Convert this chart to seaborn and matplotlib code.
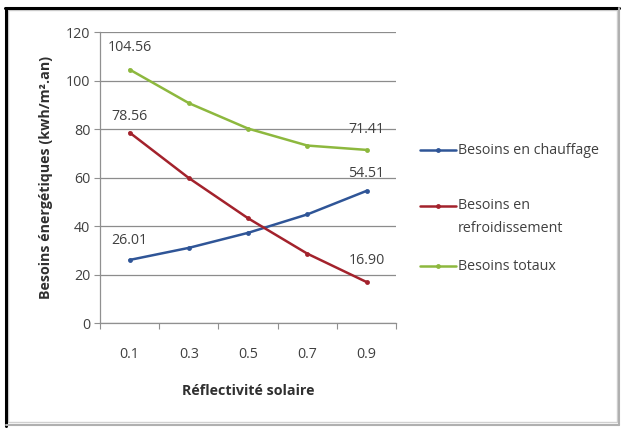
import matplotlib
matplotlib.use("Agg")
import matplotlib.pyplot as plt
from matplotlib.lines import Line2D
from matplotlib.patches import Rectangle
import seaborn as sns
import pandas as pd

# Data
reflectivity = ["0.1", "0.3", "0.5", "0.7", "0.9"]
chauffage = [26.01, 31.0, 37.2, 44.8, 54.51]
refroidissement = [78.56, 59.8, 43.2, 28.6, 16.90]
totaux = [104.56, 90.7, 80.2, 73.2, 71.41]
series_names = ["Besoins en chauffage", "Besoins en\nrefroidissement", "Besoins totaux"]
colors = ["#2F5597", "#A3222C", "#8DB83E"]
y_ticks = [0, 20, 40, 60, 80, 100, 120]

sns.set_style("white")
plt.rcParams["font.family"] = ["Open Sans", "DejaVu Sans"]

FS = 10.3
TXT = "#404040"

df = pd.DataFrame({
    "pos": list(range(len(reflectivity))) * 3,
    "value": chauffage + refroidissement + totaux,
    "serie": sum([[n] * len(reflectivity) for n in series_names], []),
})

fig = plt.figure(figsize=(6.21, 4.28), dpi=100)
ax = fig.add_axes([0.161, 0.2453, 0.477, 0.6797])

sns.lineplot(data=df, x="pos", y="value", hue="serie", palette=colors,
             hue_order=series_names, marker="o", markersize=3.5,
             markeredgewidth=0, linewidth=1.8, legend=False, ax=ax)

ax.set_xlim(-0.5, len(reflectivity) - 0.5)
ax.set_ylim(0, 120)
ax.set_yticks(y_ticks)
ax.set_yticklabels([str(v) for v in y_ticks], fontsize=FS, color=TXT)
ax.set_xticks(range(len(reflectivity)))
ax.set_xticklabels(reflectivity, fontsize=FS, color=TXT)
ax.tick_params(axis="x", length=0, pad=17)
ax.tick_params(axis="y", length=4, width=0.8, color="#909090", pad=3, direction="out", left=True)
ax.set_xticks([i - 0.5 for i in range(len(reflectivity) + 1)], minor=True)
ax.tick_params(axis="x", which="minor", length=4, width=0.8, color="#909090", direction="out", bottom=True)

ax.grid(axis="y", color="#8c8c8c", linewidth=0.9)
ax.set_axisbelow(True)
for side in ["top", "right"]:
    ax.spines[side].set_visible(False)
for side in ["left", "bottom"]:
    ax.spines[side].set_color("#909090")
    ax.spines[side].set_linewidth(0.9)

ax.set_xlabel("Réflectivité solaire", fontsize=FS, fontweight="bold", color="#303030", labelpad=16)
ax.set_ylabel("Besoins énergétiques (kwh/m².an)", fontsize=FS, fontweight="bold", color="#303030", labelpad=9)

# Value labels at the first and last points
label_style = dict(fontsize=FS, color=TXT, ha="center", va="center")
ax.text(0, totaux[0] + 9, f"{totaux[0]:.2f}", **label_style)
ax.text(0, refroidissement[0] + 6.5, f"{refroidissement[0]:.2f}", **label_style)
ax.text(0, chauffage[0] + 8, f"{chauffage[0]:.2f}", **label_style)
ax.text(4, totaux[-1] + 8.5, f"{totaux[-1]:.2f}", **label_style)
ax.text(4, chauffage[-1] + 7, f"{chauffage[-1]:.2f}", **label_style)
ax.text(4, refroidissement[-1] + 9, f"{refroidissement[-1]:.2f}", **label_style)

# Legend drawn in figure coordinates
W, H = 621, 428
legend_rows = [150, 206, 266]
for name, col, ypx in zip(series_names, colors, legend_rows):
    yf = 1 - ypx / H
    fig.add_artist(Line2D([420 / W, 456 / W], [yf, yf], color=col, linewidth=1.8))
    fig.add_artist(Line2D([438 / W], [yf], color=col, marker="o", markersize=3.5,
                          markeredgewidth=0))
    if "\n" in name:
        fig.text(458 / W, yf + 8 / H, name, fontsize=FS, color=TXT, va="top",
                 linespacing=1.7)
    else:
        fig.text(458 / W, yf, name, fontsize=FS, color=TXT, va="center")

# Outer frame
fig.add_artist(Rectangle((8 / W, 6 / H), 609 / W, 412 / H, transform=fig.transFigure,
                         fill=False, edgecolor="#d0d0d0", linewidth=1.0))
fig.add_artist(Line2D([5 / W, 619 / W], [1 - 8 / H, 1 - 8 / H], color="black", linewidth=2.2))
fig.add_artist(Line2D([6 / W, 6 / W], [1 - 8 / H, 1 - 426 / H], color="black", linewidth=2.2))
fig.add_artist(Line2D([619 / W, 619 / W], [1 - 8 / H, 1 - 425 / H], color="#b0b0b0", linewidth=1.5))
fig.add_artist(Line2D([6 / W, 619 / W], [1 - 424.5 / H, 1 - 424.5 / H], color="#b0b0b0", linewidth=1.5))

fig.savefig("out.png", dpi=100, facecolor="white")
